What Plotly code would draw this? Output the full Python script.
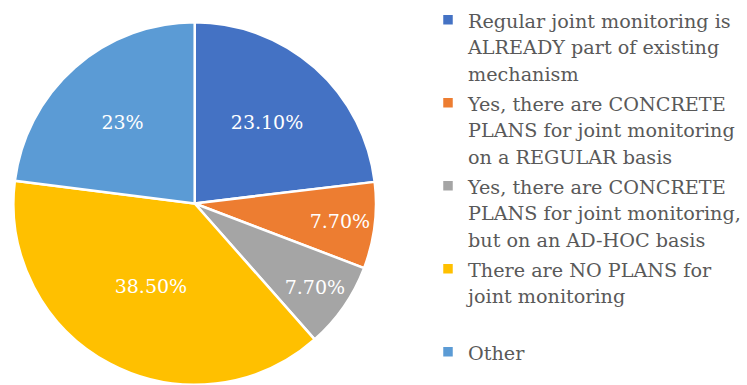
import plotly.graph_objects as go

# Survey responses on joint monitoring
categories = [
    "Regular joint monitoring is|ALREADY part of existing|mechanism",
    "Yes, there are CONCRETE|PLANS for joint monitoring|on a REGULAR basis",
    "Yes, there are CONCRETE|PLANS for joint monitoring,|but on an AD-HOC basis",
    "There are NO PLANS for|joint monitoring| ",
    "Other",
]
shares = [23.10, 7.70, 7.70, 38.50, 23.0]
decimals = [2, 2, 2, 2, 0]
colors = ["#4472C4", "#ED7D31", "#A5A5A5", "#FFC000", "#5B9BD5"]

TEXT_PX = 19.2      # visible legend text size
LINE_FONT = 20.5    # legend font size that sets the line pitch


def legend_label(raw):
    lines = raw.split("|")
    return "<br>".join(
        f'<span style="font-size:{TEXT_PX}px">{ln}</span>' for ln in lines
    )


labels = [legend_label(c) for c in categories]
slice_text = [f"{v:.{d}f}%" for v, d in zip(shares, decimals)]

fig = go.Figure(
    go.Pie(
        labels=labels,
        values=shares,
        text=slice_text,
        textinfo="text",
        textposition="inside",
        insidetextorientation="horizontal",
        sort=False,
        direction="clockwise",
        rotation=0,
        marker=dict(colors=colors, line=dict(color="white", width=2.5)),
        textfont=dict(family="DejaVu Serif", size=19, color="white"),
        domain=dict(x=[0.018, 0.504], y=[0.0, 0.943]),
        hoverinfo="skip",
    )
)

fig.update_layout(
    width=747,
    height=385,
    margin=dict(l=0, r=0, t=0, b=0),
    paper_bgcolor="white",
    plot_bgcolor="white",
    uniformtext=dict(mode="show", minsize=19),
    showlegend=True,
    legend=dict(
        x=0.574,
        y=1.0,
        xanchor="left",
        yanchor="top",
        valign="top",
        font=dict(family="DejaVu Serif", size=LINE_FONT, color="#595959"),
        bgcolor="rgba(0,0,0,0)",
        itemclick=False,
    ),
)

fig.write_html("out.html")
